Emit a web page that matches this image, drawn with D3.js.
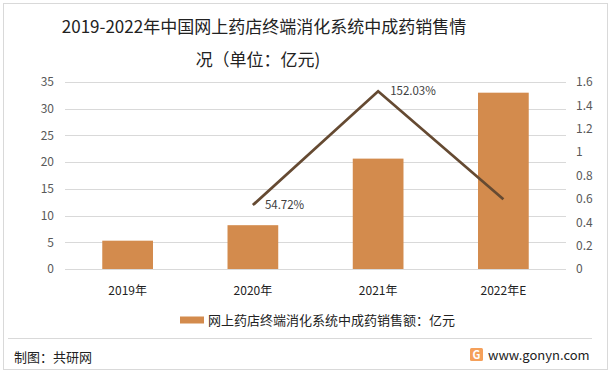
<!DOCTYPE html>
<html>
<head>
<meta charset="utf-8">
<script src="https://cdn.jsdelivr.net/npm/d3@7"></script>
<style>
  body { margin: 0; background: #fff; }
  svg { font-family: "Microsoft YaHei", "Noto Sans CJK SC", sans-serif; }
</style>
</head>
<body>
<svg width="615" height="378"></svg>
<script>
// chart data
var years = ["2019年", "2020年", "2021年", "2022年E"];
var sales = [5.3, 8.2, 20.66, 33.0];
var growth = [null, 0.5472, 1.5203, 0.597];
var growthLabels = [null, "54.72%", "152.03%", null];
var leftTicks = [0, 5, 10, 15, 20, 25, 30, 35];
var rightTicks = [0, 0.2, 0.4, 0.6, 0.8, 1, 1.2, 1.4, 1.6];

var svg = d3.select('svg');
var margin = {top: 82, right: 49, bottom: 109, left: 65};
var width = 615 - margin.left - margin.right;
var height = 378 - margin.top - margin.bottom;

// frame
svg.append('rect')
  .attr('x', 3.5).attr('y', 3.5)
  .attr('width', 604).attr('height', 366)
  .attr('fill', '#fff').attr('stroke', '#d9d9d9');

svg.append('line')
  .attr('x1', 8).attr('x2', 592)
  .attr('y1', 338.5).attr('y2', 338.5)
  .attr('stroke', '#d9d9d9');

// title
var title = svg.append('g').attr('fill', '#222').attr('font-size', 17);
title.append('text').attr('x', 264).attr('y', 33).attr('text-anchor', 'middle')
  .text('2019-2022年中国网上药店终端消化系统中成药销售情');
title.append('text').attr('x', 258).attr('y', 66).attr('text-anchor', 'middle')
  .text('况（单位：亿元)');

var g = svg.append('g')
  .attr('transform', `translate(${margin.left},${margin.top})`);

var x = d3.scaleBand().domain(years).range([0, width]);
var y = d3.scaleLinear().domain([0, 35]).range([height, 0]);
var y2 = d3.scaleLinear().domain([0, 1.6]).range([height, 0]);

// gridlines
g.append('g')
  .selectAll('line')
  .data(leftTicks)
  .enter().append('line')
    .attr('x1', 0).attr('x2', width)
    .attr('y1', (d) => Math.round(y(d)) + 0.5)
    .attr('y2', (d) => Math.round(y(d)) + 0.5)
    .attr('stroke', '#d9d9d9');

// axes
var axisLeft = g.append('g')
  .attr('transform', 'translate(-4,0)')
  .call(d3.axisLeft(y).tickValues(leftTicks).tickSize(0).tickPadding(7));
var axisRight = g.append('g')
  .attr('transform', `translate(${width + 4},0)`)
  .call(d3.axisRight(y2).tickValues(rightTicks).tickSize(0).tickPadding(6)
    .tickFormat((d) => d3.format('')(+d.toFixed(1))));
var axisBottom = g.append('g')
  .attr('transform', `translate(0,${height})`)
  .call(d3.axisBottom(x).tickSize(0).tickPadding(17));

[axisLeft, axisRight, axisBottom].forEach((a) => {
  a.select('.domain').remove();
  a.selectAll('text').attr('font-size', 12)
    .attr('font-family', '"Microsoft YaHei", "Noto Sans CJK SC", sans-serif');
});
axisLeft.selectAll('text').attr('fill', '#595959');
axisRight.selectAll('text').attr('fill', '#595959');
axisBottom.selectAll('text').attr('fill', '#222');

// bars
var bw = x.bandwidth() * 0.405;
g.append('g')
  .selectAll('rect')
  .data(sales)
  .enter().append('rect')
    .attr('x', (d, i) => x(years[i]) + x.bandwidth() / 2 - bw / 2)
    .attr('y', (d) => y(d))
    .attr('width', bw)
    .attr('height', (d) => height - y(d))
    .attr('fill', '#d38b4d');

// growth line
var pts = growth.map((v, i) => ({year: years[i], v: v, label: growthLabels[i]}))
  .filter((d) => d.v !== null);
var line = d3.line()
  .x((d) => x(d.year) + x.bandwidth() / 2)
  .y((d) => y2(d.v));
g.append('path')
  .datum(pts)
  .attr('d', line)
  .attr('fill', 'none')
  .attr('stroke', '#654a32')
  .attr('stroke-width', 2.75);

g.append('g')
  .selectAll('text')
  .data(pts.filter((d) => d.label))
  .enter().append('text')
    .attr('x', (d) => x(d.year) + x.bandwidth() / 2 + 12)
    .attr('y', (d) => y2(d.v) + 4)
    .attr('font-size', 11.5)
    .attr('fill', '#404040')
    .text((d) => d.label);

// legend
var legend = svg.append('g').attr('transform', 'translate(180,320)');
legend.append('rect')
  .attr('x', 0).attr('y', -3.5)
  .attr('width', 24).attr('height', 7)
  .attr('fill', '#d38b4d');
legend.append('text')
  .attr('x', 28).attr('y', 5)
  .attr('font-size', 13)
  .attr('fill', '#222')
  .text('网上药店终端消化系统中成药销售额：亿元');

// footer
svg.append('text')
  .attr('x', 14).attr('y', 362)
  .attr('font-size', 13)
  .attr('fill', '#222')
  .text('制图：共研网');

var logo = svg.append('g').attr('transform', 'translate(470,348)');
logo.append('rect')
  .attr('width', 13).attr('height', 13).attr('rx', 1.5)
  .attr('fill', '#f5a05a');
logo.append('text')
  .attr('x', 6.5).attr('y', 11)
  .attr('text-anchor', 'middle')
  .attr('font-size', 11).attr('font-weight', 'bold')
  .attr('fill', '#fff')
  .text('G');
svg.append('text')
  .attr('x', 488).attr('y', 360)
  .attr('font-size', 13)
  .attr('fill', '#222')
  .text('www.gonyn.com');
</script>
</body>
</html>
